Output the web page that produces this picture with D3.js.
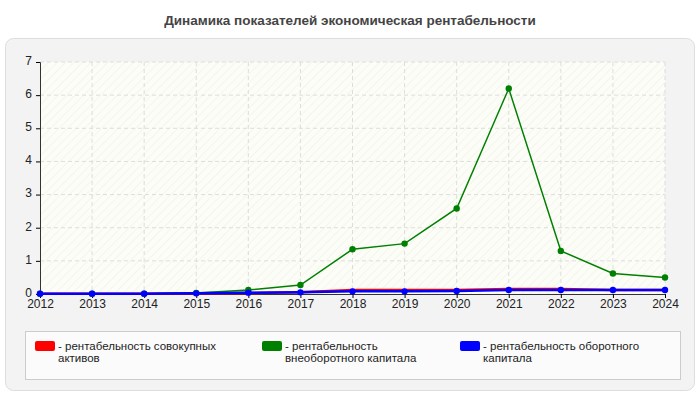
<!DOCTYPE html>
<html><head><meta charset="utf-8">
<script src="https://cdn.jsdelivr.net/npm/d3@7"></script>
<style>body{margin:0;font-family:Arial,"Liberation Sans",sans-serif;background:#fff}</style>
</head><body>
<script>
const years = [2012,2013,2014,2015,2016,2017,2018,2019,2020,2021,2022,2023,2024];
const assetsTotal = [0.01,0.01,0.01,0.02,0.03,0.05,0.12,0.12,0.12,0.15,0.15,0.12,0.12];
const fixedCapital = [0.01,0.01,0.01,0.03,0.12,0.27,1.35,1.52,2.58,6.2,1.3,0.62,0.5];
const workingCapital = [0.01,0.01,0.01,0.02,0.04,0.05,0.08,0.08,0.09,0.12,0.12,0.12,0.12];
const legendLines = [["- рентабельность совокупных","активов"],["- рентабельность","внеоборотного капитала"],["- рентабельность оборотного","капитала"]];
const yTicks = [0,1,2,3,4,5,6,7];

function main() {
  const svg = d3.select("body").append("svg").attr("width",700).attr("height",400);
  svg.append("text").attr("x",350).attr("y",25).attr("text-anchor","middle")
    .attr("font-size",13.5).attr("font-weight","bold").attr("fill","#444")
    .text("Динамика показателей экономическая рентабельности");
  svg.append("rect").attr("x",5.5).attr("y",38.5).attr("width",689).attr("height",352)
    .attr("rx",8).attr("fill","#f3f3f3").attr("stroke","#ddd");

  const defs = svg.append("defs");
  const pat = defs.append("pattern").attr("id","hatch").attr("width",6).attr("height",6)
    .attr("patternUnits","userSpaceOnUse").attr("patternTransform","rotate(45)");
  pat.append("rect").attr("width",6).attr("height",6).attr("fill","#fcfdf6");
  pat.append("line").attr("x1",0).attr("y1",0).attr("x2",0).attr("y2",6).attr("stroke","#eeeeea").attr("stroke-width",1);

  const x = d3.scaleLinear().domain([2012,2024]).range([40,665]);
  const y = d3.scaleLinear().domain([0,7]).range([294,62]);

  svg.append("rect").attr("x",40).attr("y",62).attr("width",625).attr("height",232).attr("fill","url(#hatch)");
  const g = svg.append("g");
  g.selectAll(".hg").data(yTicks.slice(1)).enter().append("line")
    .attr("x1",40).attr("x2",665).attr("y1",d=>y(d)).attr("y2",d=>y(d))
    .attr("stroke","#ddd").attr("stroke-dasharray","4,3");
  g.selectAll(".vg").data(years.slice(1)).enter().append("line")
    .attr("y1",62).attr("y2",294).attr("x1",d=>x(d)).attr("x2",d=>x(d))
    .attr("stroke","#ddd").attr("stroke-dasharray","4,3");

  const ya = svg.append("g").attr("transform","translate(40,0)")
    .call(d3.axisLeft(y).tickValues(yTicks).tickSize(4).tickFormat(d3.format("d")));
  const xa = svg.append("g").attr("transform","translate(0,294)")
    .call(d3.axisBottom(x).tickValues(years).tickSize(4).tickFormat(d3.format("d")));
  [ya,xa].forEach(a=>{a.selectAll("text").attr("font-size",12).attr("fill","#222").attr("font-family","Arial");
    a.select(".domain").attr("stroke","#333");});
  ya.selectAll("text").attr("x",-8).attr("dy","0.2em");
  xa.selectAll("text").attr("dy","0.6em");

  const line = d3.line().x((d,i)=>x(years[i])).y(d=>y(d));
  const series = [[assetsTotal,"red",false],[fixedCapital,"green",true],[workingCapital,"blue",true]];
  series.forEach(([vals,col,pts])=>{
    svg.append("path").attr("d",line(vals)).attr("fill","none").attr("stroke",col).attr("stroke-width",col==="green"?1.5:2.5);
    if(pts) svg.selectAll(null).data(vals).enter().append("circle")
      .attr("cx",(d,i)=>x(years[i])).attr("cy",d=>y(d)).attr("r",3.2).attr("fill",col);
  });

  svg.append("rect").attr("x",25.5).attr("y",331.5).attr("width",655).attr("height",48)
    .attr("fill","#fbfbfb").attr("stroke","#ccc");
  const lx = [35,262,460];
  legendLines.forEach((t,i)=>{
    svg.append("rect").attr("x",lx[i]).attr("y",341).attr("width",20).attr("height",10).attr("rx",2).attr("fill",series[i][1]);
    t.forEach((s,j)=>svg.append("text").attr("x",lx[i]+23).attr("y",350+j*12)
      .attr("font-size",11.5).attr("fill","#222").text(s));
  });
}
main();
</script>
</body></html>
